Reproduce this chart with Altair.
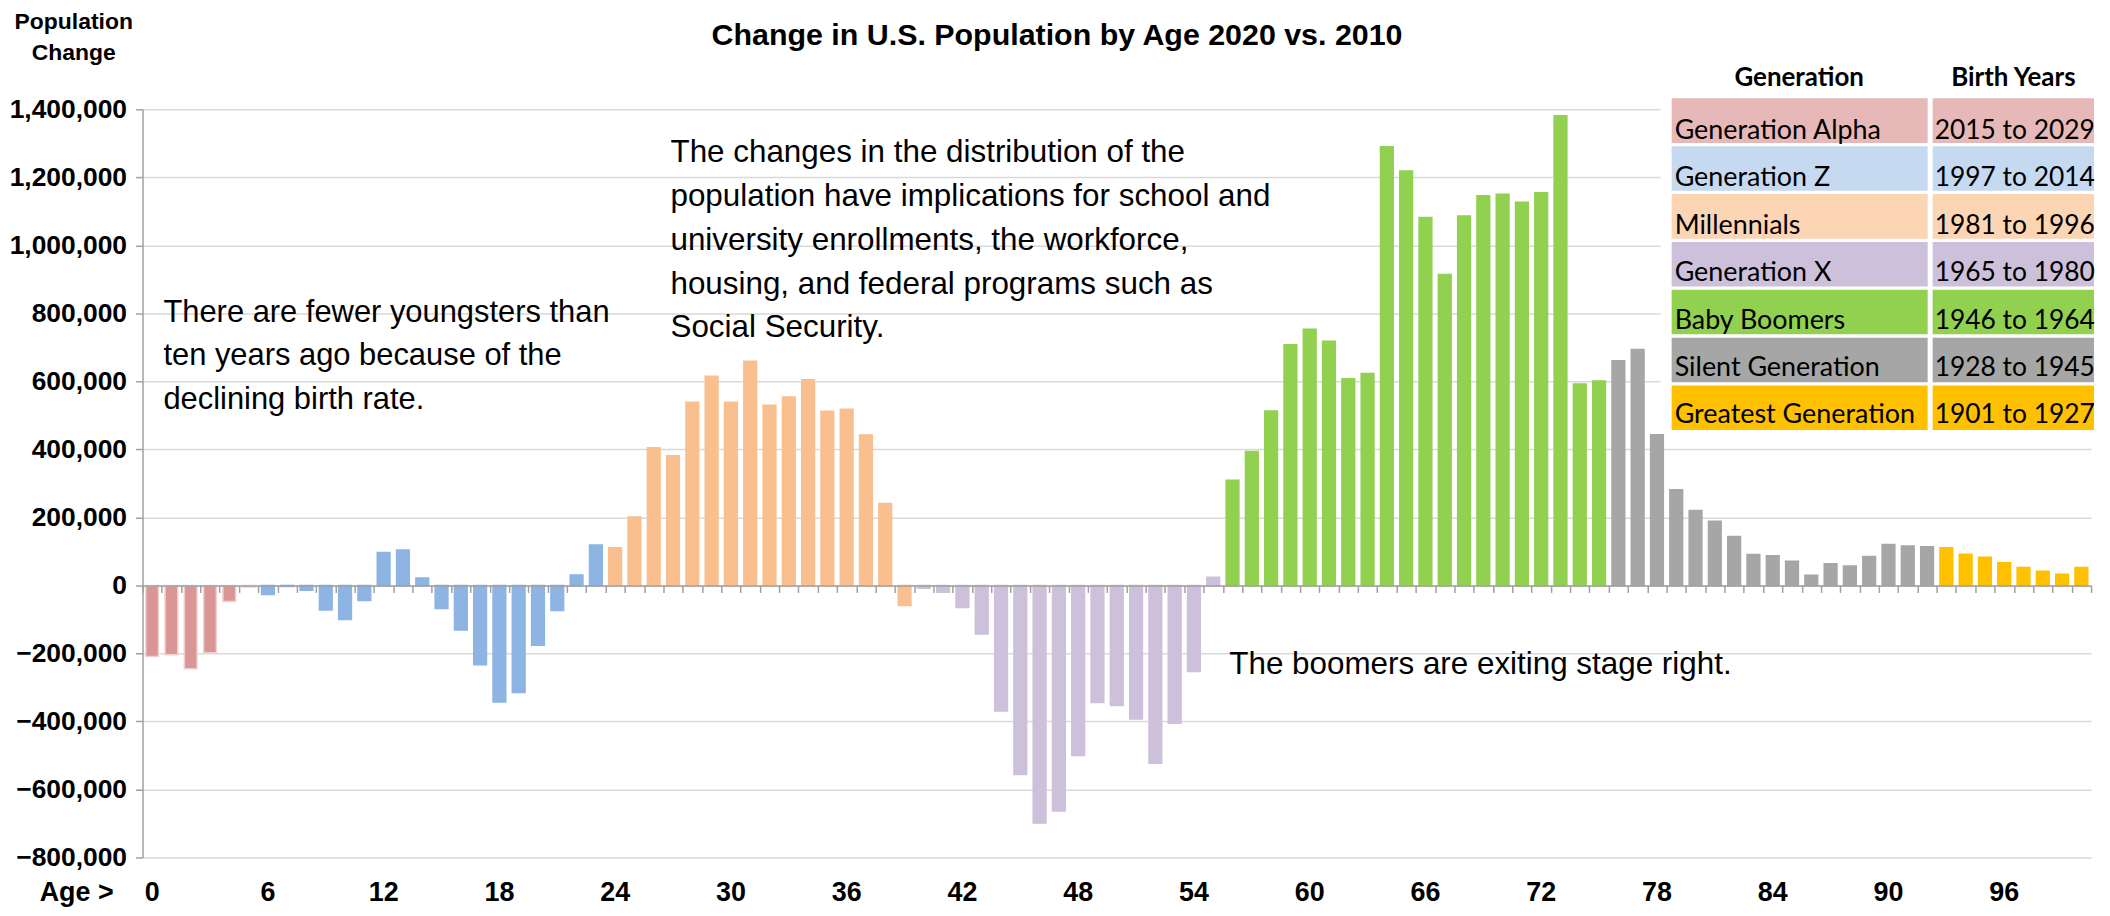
import altair as alt
import pandas as pd

# ---------------- data ----------------
ages = list(range(0, 101))
changes = [
    -209000, -204000, -245000, -198000, -47000, -5000,
    -27000, -3000, -14000, -72000, -100000, -44000, 97000, 104000, 22000, -68000,
    -131000, -233000, -343000, -315000, -176000, -74000, 31000, 119000,
    111000, 201000, 405000, 381000, 539000, 615000, 539000, 659000, 530000, 554000,
    605000, 512000, 518000, 442000, 241000, -59000,
    -8000, -20000, -65000, -143000, -369000, -556000, -699000, -663000, -500000,
    -344000, -353000, -393000, -523000, -405000, -253000, 24000,
    309000, 394000, 513000, 708000, 753000, 718000, 608000, 623000, 1290000, 1219000,
    1082000, 914000, 1086000, 1146000, 1150000, 1127000, 1155000, 1381000, 592000, 601000,
    661000, 694000, 443000, 281000, 220000, 189000, 144000, 91000, 87000, 71000,
    30000, 64000, 57000, 85000, 120000, 116000, 114000,
    111000, 92000, 83000, 67000, 53000, 42000, 33000, 53000,
]
gen_names = ["Generation Alpha", "Generation Z", "Millennials", "Generation X",
             "Baby Boomers", "Silent Generation", "Greatest Generation"]
gen_years = ["2015 to 2029", "1997 to 2014", "1981 to 1996", "1965 to 1980",
             "1946 to 1964", "1928 to 1945", "1901 to 1927"]
gen_bar_counts = [6, 18, 16, 16, 20, 17, 8]
bar_colors = ["#DA9694", "#8DB4E2", "#FABF8F", "#CCC0DA", "#92D050", "#A6A6A6", "#FFC000"]
bar_strokes = ["#F2D0CF", "#8DB4E2", "#FABF8F", "#CCC0DA", "#92D050", "#A6A6A6", "#FFC000"]
table_colors = ["#E6B8B7", "#C5D9F1", "#FCD5B4", "#CCC0DA", "#92D050", "#A6A6A6", "#FFC000"]
y_ticks = list(range(-800000, 1400001, 200000))
x_label_ages = list(range(0, 101, 6))

title_text = "Change in U.S. Population by Age 2020 vs. 2010"
y_title_lines = ["Population", "Change"]
x_title_text = "Age >"
table_headers = ["Generation", "Birth Years"]
note_youth = ["There are fewer youngsters than", "ten years ago because of the",
              "declining birth rate."]
note_changes = ["The changes in the distribution of the",
                "population have implications for school and",
                "university enrollments, the workforce,",
                "housing, and federal programs such as",
                "Social Security."]
note_boomers = ["The boomers are exiting stage right."]

# ---------------- layout ----------------
W, H = 1956, 751
YMIN, YMAX = -800000, 1400000
zero_offset = -H * (0 - YMIN) / (YMAX - YMIN)
FONT = "Liberation Sans, Arial, sans-serif"
TFONT = "Lato, Open Sans, sans-serif"

gens = []
for name, n in zip(gen_names, gen_bar_counts):
    gens += [name] * n
df = pd.DataFrame({"age": ages, "change": changes, "gen": gens})
tdf = pd.DataFrame({"gen": gen_names, "years": gen_years, "fill": table_colors})
one = pd.DataFrame({"k": [0]})

xscale = alt.Scale(paddingInner=0, paddingOuter=0)

bars = alt.Chart(df).mark_bar(width={"band": 0.66}, strokeWidth=1.5).encode(
    x=alt.X("age:O", scale=xscale, sort=None,
            axis=alt.Axis(orient="bottom", offset=zero_offset, labels=False, ticks=True,
                          tickBand="extent", tickSize=7, tickColor="#A0A0A0", tickWidth=1.5,
                          domainColor="#A0A0A0", domainWidth=1.5, grid=False, title=None,
                          zindex=1)),
    y=alt.Y("change:Q", scale=alt.Scale(domain=[YMIN, YMAX], nice=False, zero=False),
            axis=alt.Axis(values=y_ticks, format=",.0f", title=None, labelFont=FONT,
                          labelFontSize=26.5, labelFontWeight="bold", labelColor="black",
                          gridColor="#D9D9D9", gridWidth=1.5, domainColor="#A0A0A0",
                          domainWidth=1.5, tickColor="#A0A0A0", tickSize=7, tickWidth=1.5,
                          labelPadding=9)),
    color=alt.Color("gen:N", scale=alt.Scale(domain=gen_names, range=bar_colors), legend=None),
    stroke=alt.Stroke("gen:N", scale=alt.Scale(domain=gen_names, range=bar_strokes), legend=None),
)

xlabels = alt.Chart(df).mark_point(opacity=0).encode(
    x=alt.X("age:O", scale=xscale, sort=None,
            axis=alt.Axis(orient="bottom", values=x_label_ages, domain=False, ticks=False,
                          grid=False, labelAngle=0, labelFont=FONT, labelFontSize=27,
                          labelFontWeight="bold", labelColor="black", labelPadding=22,
                          title=None)),
)


def text_layer(lines, x, y, size, weight="normal", align="left", font=FONT, lh=None):
    mk = dict(align=align, baseline="middle", font=font, fontSize=size,
              fontWeight=weight, color="black")
    if lh:
        mk["lineHeight"] = lh
    return alt.Chart(one).mark_text(**mk).encode(
        x=alt.value(x), y=alt.value(y), text=alt.value(lines))


title = text_layer(title_text, 918, -74, 30.5, "bold", "center")
ytitle = text_layer(y_title_lines, -69, -88, 23, "bold", "center", lh=31)
xtitle = text_layer(x_title_text, -29, 787, 27, "bold", "right")
n1 = text_layer(note_youth, 21, 204, 31, lh=44)
n2 = text_layer(note_changes, 530, 44, 31.5, lh=44)
n3 = text_layer(note_boomers, 1091, 558, 31.5)

# ---------------- generation table ----------------
ty = alt.Scale(domain=gen_names, range=[-11, 322], paddingInner=0.07, paddingOuter=0)
table_bg = alt.Chart(one).mark_rect(color="white").encode(
    x=alt.value(1524), x2=alt.value(1960), y=alt.value(-62), y2=alt.value(326))
cells1 = alt.Chart(tdf).mark_rect().encode(
    x=alt.value(1535), x2=alt.value(1792),
    y=alt.Y("gen:N", scale=ty, axis=None),
    color=alt.Color("fill:N", scale=None))
cells2 = alt.Chart(tdf).mark_rect().encode(
    x=alt.value(1797), x2=alt.value(1959),
    y=alt.Y("gen:N", scale=ty, axis=None),
    color=alt.Color("fill:N", scale=None))
ctext1 = alt.Chart(tdf).mark_text(align="left", baseline="alphabetic", dy=17, font=TFONT,
                                  fontSize=27, color="black").encode(
    x=alt.value(1538), y=alt.Y("gen:N", scale=ty, axis=None), text="gen:N")
ctext2 = alt.Chart(tdf).mark_text(align="left", baseline="alphabetic", dy=17, font=TFONT,
                                  fontSize=26.5, color="black").encode(
    x=alt.value(1799), y=alt.Y("gen:N", scale=ty, axis=None), text="years:N")
head1 = text_layer(table_headers[0], 1663, -31, 26, "bold", "center", font=TFONT)
head2 = text_layer(table_headers[1], 1878, -31, 26, "bold", "center", font=TFONT)

chart = alt.layer(
    bars, xlabels, title, ytitle, xtitle, n1, n2, n3,
    table_bg, cells1, cells2, ctext1, ctext2, head1, head2,
).resolve_scale(y="independent").resolve_axis(x="independent").properties(
    width=W, height=H,
    autosize=alt.AutoSizeParams(type="none"),
    padding={"left": 135, "top": 100, "right": 11, "bottom": 49},
).configure_view(stroke=None)

chart.save("out.html", embed_options={"renderer": "svg", "actions": False})
